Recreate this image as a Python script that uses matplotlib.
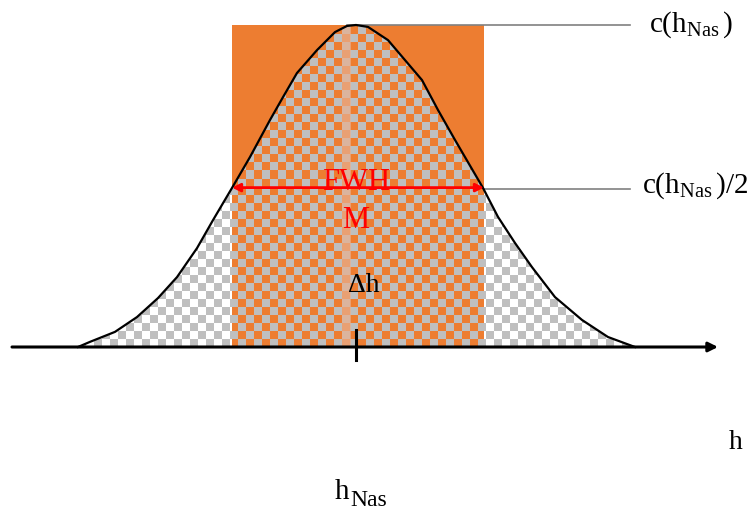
"""
FWHM sketch: peak c(h_Nas) with the half-width box and checkered area.
"""
import matplotlib
matplotlib.use('Agg')
import matplotlib.pyplot as plt
import matplotlib.patches as mpatches
import numpy as np

plt.rcParams.update({
    'font.family': ['Liberation Serif', 'DejaVu Serif'],
    'mathtext.fontset': 'custom',
    'mathtext.rm': 'Liberation Serif',
    'mathtext.it': 'Liberation Serif:italic',
    'font.size': 21,
})

ORANGE = '#ED7D31'
LINE_GRAY = '#808080'

# curve: h relative to h_Nas, c relative to the peak
h_curve = [-2.78, -2.66, -2.41, -2.19, -1.98, -1.79, -1.59, -1.43, -1.24, -1.06,
           -0.86, -0.73, -0.59, -0.39, -0.21, -0.09, 0.00, 0.12, 0.32, 0.49,
           0.66, 0.82, 0.99, 1.27, 1.42, 1.59, 1.76, 1.99, 2.26, 2.52, 2.79]
c_curve = [0.000, 0.016, 0.047, 0.093, 0.152, 0.217, 0.307, 0.394, 0.494, 0.590,
           0.705, 0.776, 0.851, 0.922, 0.978, 0.997, 1.000, 0.994, 0.953, 0.891,
           0.829, 0.736, 0.643, 0.494, 0.404, 0.323, 0.248, 0.155, 0.084, 0.031, 0.000]

h_half = [-1.24, 1.28]      # where the curve crosses c/2
c_peak = 1.0
c_half = 0.49
h_axis = [-3.44, 3.62]      # extent of the h axis arrow
h_label_end = 2.74          # where the guide lines stop

fig = plt.figure(figsize=(7.52, 5.14), dpi=100)
ax = fig.add_axes([0, 0, 1, 1])
ax.set_xlim(-3.56, 3.96)
ax.set_ylim(-0.5186, 1.0776)
ax.axis('off')

# orange FWHM box
ax.add_patch(mpatches.Rectangle((h_half[0], 0), h_half[1] - h_half[0], c_peak,
                                facecolor=ORANGE, edgecolor='none', zorder=1))

# checkered area under the curve
clip = ax.fill(h_curve, c_curve, facecolor='none', edgecolor='none', zorder=0)[0]
cell_h, cell_c = 0.08, 8 / 322
nx = int((h_curve[-1] - h_curve[0]) / cell_h) + 1
ny = int(c_peak / cell_c) + 1
iy, ix = np.indices((ny, nx))
tex = np.zeros((ny, nx, 4))
tex[(ix + iy) % 2 == 0] = [0.75, 0.75, 0.75, 1.0]
im = ax.imshow(tex, extent=(h_curve[0], h_curve[0] + nx * cell_h, 0, ny * cell_c),
               origin='lower', interpolation='nearest', aspect='auto', zorder=2)
im.set_clip_path(clip)

# pale stripe at the centre
stripe = ax.axvspan(-0.14, -0.05, color='#E8B090', alpha=0.7, lw=0, zorder=2.5)
stripe.set_clip_path(clip)

ax.plot(h_curve, c_curve, color='black', lw=1.6, zorder=4)

# guide lines to the labels
ax.plot([-0.09, h_label_end], [c_peak, c_peak], color=LINE_GRAY, lw=1.2, zorder=3)
ax.plot([h_half[1], h_label_end], [c_half, c_half], color=LINE_GRAY, lw=1.2, zorder=3)

# FWHM arrow
ax.annotate('', xy=(h_half[1], c_half + 0.005), xytext=(h_half[0], c_half + 0.005),
            arrowprops=dict(arrowstyle='<|-|>', color='red', lw=2,
                            mutation_scale=12, shrinkA=0, shrinkB=0), zorder=5)

# h axis and tick at h_Nas
ax.annotate('', xy=(h_axis[1], 0), xytext=(h_axis[0], 0),
            arrowprops=dict(arrowstyle='-|>', color='black', lw=2.2,
                            mutation_scale=14, shrinkA=0, shrinkB=0), zorder=5)
ax.plot([0, 0], [-0.04, 0.053], color='black', lw=2.2, zorder=5)

# texts
ax.text(0, 0.512, 'FWH', color='red', ha='center', va='center', fontsize=22, zorder=6)
ax.text(0, 0.394, 'M', color='red', ha='center', va='center', fontsize=22, zorder=6)
ax.text(0.08, 0.19, 'Δh', color='black', ha='center', va='center', fontsize=20, zorder=6)
ax.text(2.93, c_peak, r'$\mathrm{c(h_{Nas}\,)}$', ha='left', va='center')
ax.text(2.86, c_half + 0.01, r'$\mathrm{c(h_{Nas}\,)/2}$', ha='left', va='center')
ax.text(3.80, -0.298, 'h', ha='center', va='center', fontsize=20)
ax.text(-0.21, -0.472, 'h', ha='left', va='baseline', fontsize=21)
ax.text(-0.06, -0.495, 'Nas', ha='left', va='baseline', fontsize=17)

fig.savefig('out.png', dpi=100, facecolor='white')
